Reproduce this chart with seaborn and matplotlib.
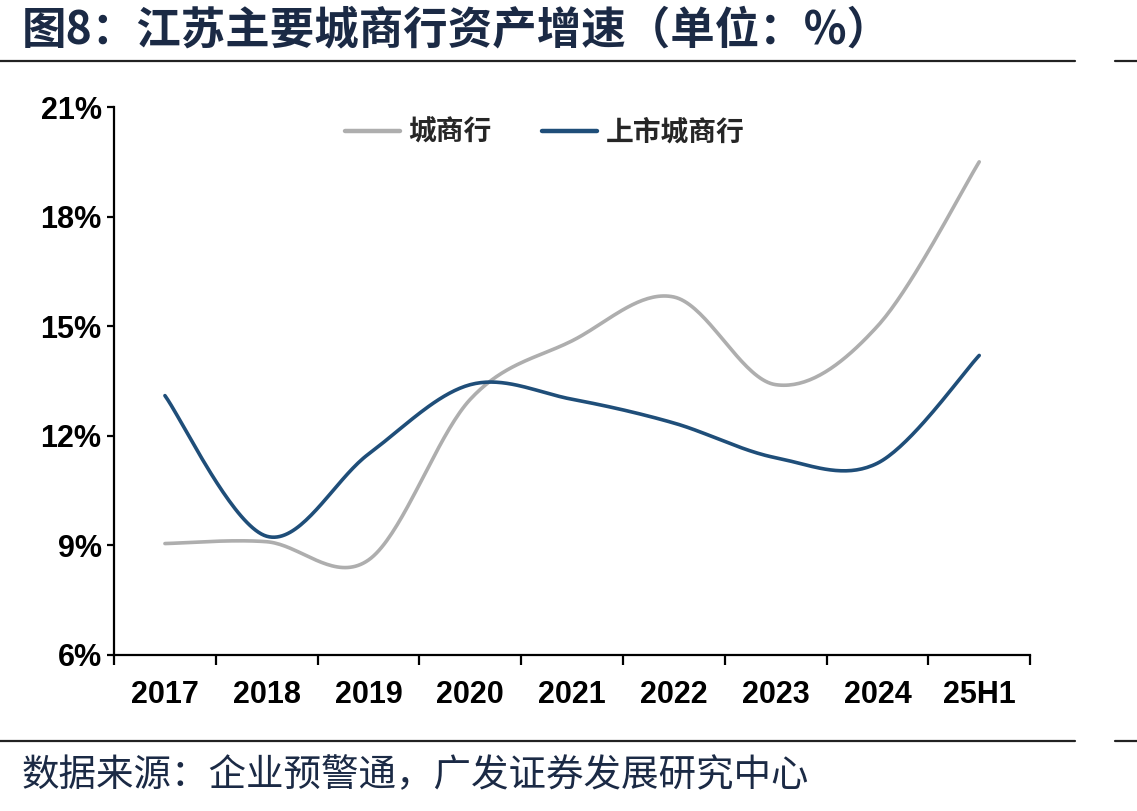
import numpy as np
import pandas as pd
import seaborn as sns
import matplotlib
matplotlib.use("Agg")
from matplotlib import pyplot as plt
from matplotlib.lines import Line2D

# data (%)
periods = ["2017", "2018", "2019", "2020", "2021", "2022", "2023", "2024", "25H1"]
city_banks = [9.05, 9.1, 8.6, 13.0, 14.6, 15.8, 13.4, 15.0, 19.5]
listed_city_banks = [13.1, 9.25, 11.5, 13.4, 13.0, 12.35, 11.4, 11.25, 14.2]
series_names = ["城商行", "上市城商行"]
yticks = [6, 9, 12, 15, 18, 21]

colors = {"城商行": "#AEAEAE", "上市城商行": "#1F4E79"}


# excel style smoothing: bezier through every point
def smooth(vals, n=40):
    y = np.asarray(vals, dtype=float)
    x = np.arange(len(y), dtype=float)
    xp = np.concatenate([[x[0]], x, [x[-1]]])
    yp = np.concatenate([[y[0]], y, [y[-1]]])
    xs, ys = [], []
    t = np.linspace(0, 1, n)
    for i in range(len(y) - 1):
        p0 = np.array([xp[i + 1], yp[i + 1]])
        p3 = np.array([xp[i + 2], yp[i + 2]])
        c1 = p0 + (np.array([xp[i + 2], yp[i + 2]]) - np.array([xp[i], yp[i]])) / 6
        c2 = p3 - (np.array([xp[i + 3], yp[i + 3]]) - np.array([xp[i + 1], yp[i + 1]])) / 6
        b = ((1 - t) ** 3)[:, None] * p0 + (3 * (1 - t) ** 2 * t)[:, None] * c1 \
            + (3 * (1 - t) * t ** 2)[:, None] * c2 + (t ** 3)[:, None] * p3
        xs.extend(b[:, 0])
        ys.extend(b[:, 1])
    return xs, ys


frames = []
for name, vals in zip(series_names, [city_banks, listed_city_banks]):
    xs, ys = smooth(vals)
    frames.append(pd.DataFrame({"x": xs, "y": ys, "series": name}))
df = pd.concat(frames, ignore_index=True)

sns.set_theme(style="white")
plt.rcParams["font.family"] = ["Noto Sans CJK SC", "DejaVu Sans"]

fig = plt.figure(figsize=(11.37, 8.11), dpi=100)
ax = fig.add_axes([0.1003, 0.1924, 0.8057, 0.6756])

sns.lineplot(data=df, x="x", y="y", hue="series", palette=colors, sort=False,
             estimator=None, linewidth=2.6, ax=ax, legend=False)

ax.set_xlim(-0.5, len(periods) - 0.5)
ax.set_ylim(6, 21)
ax.set_yticks(yticks)
ax.set_yticklabels([f"{v}%" for v in yticks])
ax.set_xticks(np.arange(len(periods)))
ax.set_xticklabels(periods)
ax.set_xticks(np.arange(len(periods) + 1) - 0.5, minor=True)
ax.set_xlabel("")
ax.set_ylabel("")

for s in ["top", "right"]:
    ax.spines[s].set_visible(False)
for s in ["left", "bottom"]:
    ax.spines[s].set_color("black")
    ax.spines[s].set_linewidth(1.6)

num_font = ["Liberation Sans", "DejaVu Sans"]
ax.tick_params(axis="y", which="major", direction="out", length=5, width=1.6,
               color="black", left=True, pad=4)
ax.tick_params(axis="x", which="major", length=0, pad=18)
ax.tick_params(axis="x", which="minor", direction="out", length=7, width=1.6,
               color="black", bottom=True)
for lab in ax.get_yticklabels() + ax.get_xticklabels():
    lab.set_fontfamily(num_font)
    lab.set_fontweight("bold")
    lab.set_fontsize(22)
    lab.set_color("black")

handles = [Line2D([0], [0], color=colors[n], linewidth=3.2) for n in series_names]
leg = ax.legend(handles, series_names, loc="upper center", bbox_to_anchor=(0.47, 1.025),
                ncol=2, frameon=False, handlelength=2.0, handletextpad=0.3,
                columnspacing=1.8, prop={"family": ["Noto Sans CJK SC"], "weight": "bold", "size": 20})

# title, rules and source
navy = "#1B2A45"
fig.text(0.019, 0.963, "图8：江苏主要城商行资产增速（单位：%）", fontsize=32, fontweight="bold",
         color=navy, ha="left", va="center")
fig.add_artist(Line2D([0, 1075 / 1137], [1 - 61 / 811] * 2, color="#222222", linewidth=1.6))
fig.add_artist(Line2D([1115 / 1137, 1], [1 - 61 / 811] * 2, color="#222222", linewidth=1.6))
fig.add_artist(Line2D([0, 1075 / 1137], [1 - 741 / 811] * 2, color="#222222", linewidth=1.6))
fig.add_artist(Line2D([1115 / 1137, 1], [1 - 741 / 811] * 2, color="#222222", linewidth=1.6))
fig.text(0.019, 1 - 776 / 811, "数据来源：企业预警通，广发证券发展研究中心", fontsize=27,
         color=navy, ha="left", va="center")

fig.savefig("out.png", dpi=100, facecolor="white")
